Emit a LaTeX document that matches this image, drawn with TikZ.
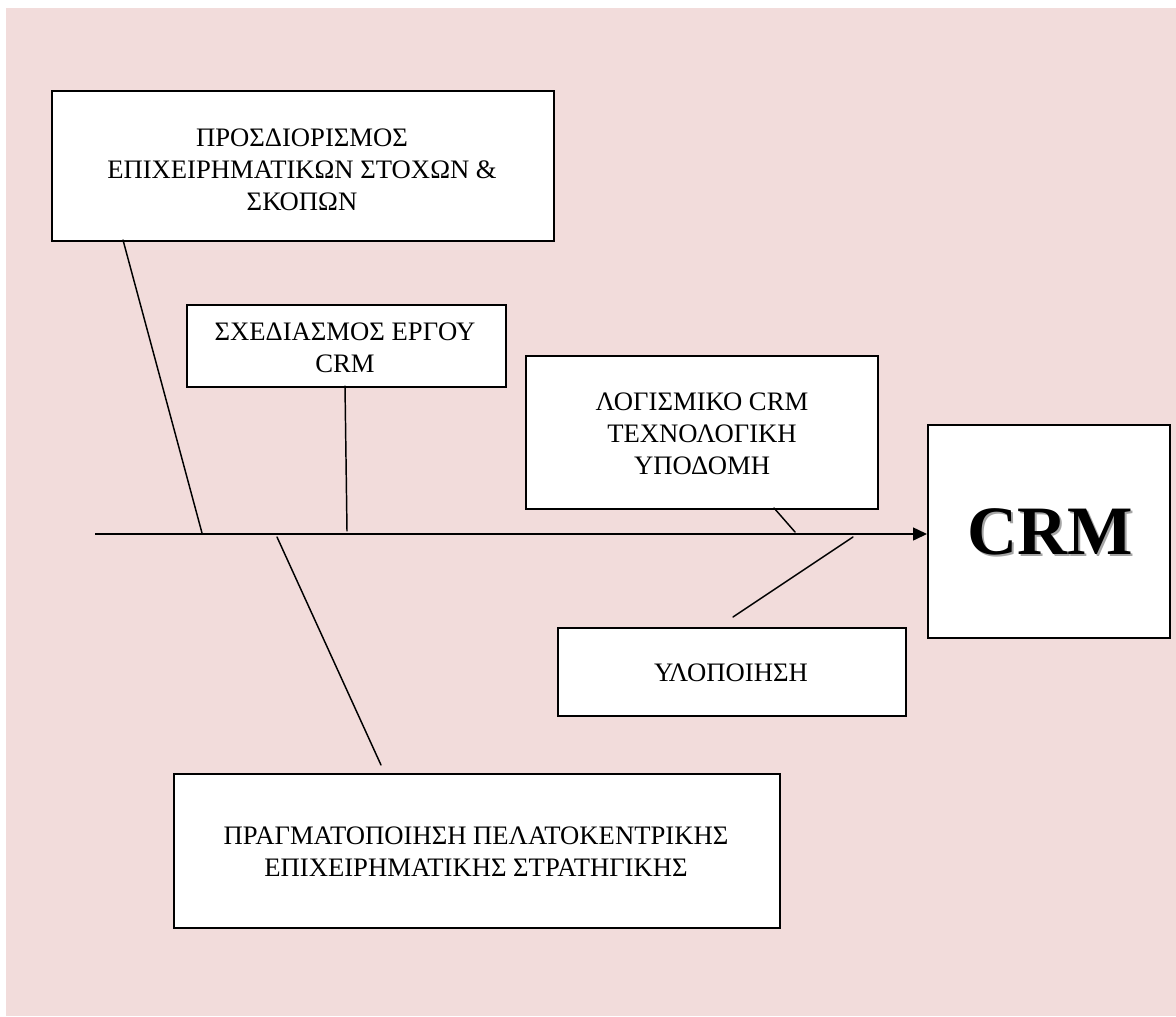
\documentclass[tikz,border=0pt]{standalone}
\usepackage{fontspec}
\setmainfont{Liberation Serif}
\usetikzlibrary{arrows.meta}
\definecolor{bgpink}{RGB}{242,220,219}
\definecolor{shadowgray}{RGB}{165,165,165}
% bold title with a soft grey drop shadow behind it
\newcommand{\shadowedtitle}[1]{\rlap{\hspace{1.9pt}\raisebox{-1.9pt}{\textcolor{shadowgray}{#1}}}#1}
\begin{document}
\begin{tikzpicture}[x=0.75pt,y=-0.75pt,
  box/.style={draw=black, line width=1.4pt, fill=white, inner sep=0pt, anchor=north west},
  caption/.style={align=center, font=\fontsize{20}{24}\selectfont, inner sep=0pt},
  bigtitle/.style={inner sep=0pt, font=\fontsize{52}{60}\selectfont\bfseries},
  bone/.style={line width=1.1pt, line cap=round}]
\useasboundingbox (0,0) rectangle (1176,1016);
\fill[bgpink] (6,8) rectangle (1176,1016);

% boxes
\node[box, minimum width=376.5pt, minimum height=112.5pt] (b1) at (51,90) {};
\node[box, minimum width=239.25pt, minimum height=61.5pt] (b2) at (186,304) {};
\node[box, minimum width=264pt, minimum height=114.75pt] (b3) at (525,355) {};
\node[box, minimum width=261pt, minimum height=66pt] (b4) at (557,627) {};
\node[box, minimum width=454.5pt, minimum height=115.5pt] (b5) at (173,773) {};
\node[box, minimum width=181.5pt, minimum height=159.75pt] (crm) at (927,424) {};

% captions
\node[caption] (t1) at (302,169.5) {ΠΡΟΣΔΙΟΡΙΣΜΟΣ\\ΕΠΙΧΕΙΡΗΜΑΤΙΚΩΝ ΣΤΟΧΩΝ \&\\ΣΚΟΠΩΝ};
\node[caption] (t2) at (345,348) {ΣΧΕΔΙΑΣΜΟΣ ΕΡΓΟΥ\\CRM};
\node[caption] (t3) at (702,434) {ΛΟΓΙΣΜΙΚΟ CRM\\ΤΕΧΝΟΛΟΓΙΚΗ\\ΥΠΟΔΟΜΗ};
\node[caption] (t4) at (731,672.5) {ΥΛΟΠΟΙΗΣΗ};
\node[caption] (t5) at (476,852) {ΠΡΑΓΜΑΤΟΠΟΙΗΣΗ ΠΕΛΑΤΟΚΕΝΤΡΙΚΗΣ\\ΕΠΙΧΕΙΡΗΜΑΤΙΚΗΣ ΣΤΡΑΤΗΓΙΚΗΣ};

% title
\node[bigtitle] (crmtext) at (1050,533) {\shadowedtitle{CRM}};

% spine
\coordinate (s0) at (95,534);
\draw[line width=1.1pt, -{Triangle[length=10.5pt, width=9.75pt]}] (s0) -- (s0 -| crm.west);

% bones
\coordinate (c1a) at (123,240);  \coordinate (c1b) at (202,533);
\coordinate (c2a) at (345,386);  \coordinate (c2b) at (347,531);
\coordinate (c3a) at (774,508);  \coordinate (c3b) at (795,532);
\coordinate (c4a) at (853,537);  \coordinate (c4b) at (733,617);
\coordinate (c5a) at (277,537);  \coordinate (c5b) at (381,765);
\draw[bone] (c1a) -- (c1b);
\draw[bone] (c2a) -- (c2b);
\draw[bone] (c3a) -- (c3b);
\draw[bone] (c4a) -- (c4b);
\draw[bone] (c5a) -- (c5b);
\end{tikzpicture}
\end{document}
